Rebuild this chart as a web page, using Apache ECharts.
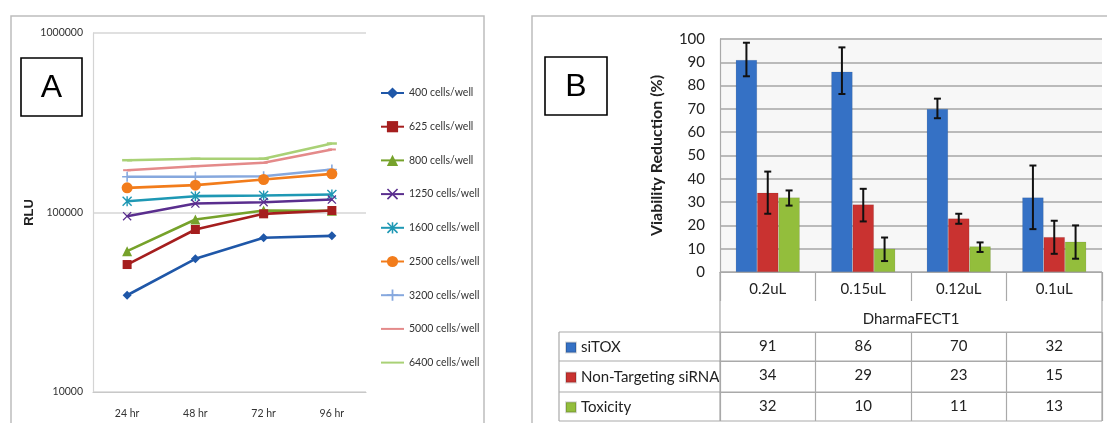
<!DOCTYPE html>
<html>
<head>
<meta charset="utf-8">
<script src="https://cdn.jsdelivr.net/npm/echarts@6/dist/echarts.min.js"></script>
<style>html,body{margin:0;padding:0;background:#fff}#c{width:1107px;height:423px}</style>
</head>
<body>
<div id="c"></div>
<script>
// ---------- Panel A data ----------
const categoriesA = ['24 hr', '48 hr', '72 hr', '96 hr'];
const seriesNamesA = ['400 cells/well', '625 cells/well', '800 cells/well', '1250 cells/well', '1600 cells/well', '2500 cells/well', '3200 cells/well', '5000 cells/well', '6400 cells/well'];
const rlu400  = [34600, 55200, 72300, 74100];
const rlu625  = [51300, 80400, 98300, 102600];
const rlu800  = [60900, 91400, 102600, 102200];
const rlu1250 = [95400, 112200, 114100, 118100];
const rlu1600 = [115600, 123300, 124300, 126000];
const rlu2500 = [137200, 142000, 152700, 164200];
const rlu3200 = [158100, 158100, 159300, 173600];
const rlu5000 = [172100, 181100, 189200, 224400];
const rlu6400 = [195600, 199200, 199200, 242300];
const yTicksA = [10000, 100000, 1000000];

// ---------- Panel B data ----------
const categoriesB = ['0.2uL', '0.15uL', '0.12uL', '0.1uL'];
const groupNameB = 'DharmaFECT1';
const seriesNamesB = ['siTOX', 'Non-Targeting siRNA', 'Toxicity'];
const siTOX = [91, 86, 70, 32];
const nonTargeting = [34, 29, 23, 15];
const toxicity = [32, 10, 11, 13];
const siTOXLow = [84, 76.4, 66, 18.4];
const siTOXHigh = [98.4, 96.4, 74.4, 45.7];
const nonTargetingLow = [25, 21.7, 20.7, 7.8];
const nonTargetingHigh = [43.1, 35.7, 25, 22];
const toxicityLow = [28.5, 4.7, 8.6, 5.7];
const toxicityHigh = [35, 14.8, 12.7, 20];
const yTicksB = [0, 100, 10]; // min, max, interval

// ---------- layout / style ----------
const narrow = 'Lato, "Liberation Sans", sans-serif';
const calib = 'Lato, "Liberation Sans", sans-serif';
const GA = {left: 93, top: 33, width: 273, height: 359};
const GB = {left: 720, top: 39, width: 382, height: 233};
const tableLeft = 559;
const rowLines = [332, 361, 392, 421];
const tableLineColor = '#a9a9a9';
const colorsA = ['#1F57A8', '#A51E1E', '#76A22B', '#5A2E8E', '#1E98B4', '#F27C1B', '#86A8DE', '#E48A8A', '#A9D176'];
const symbolsA = [
  'diamond', 'rect', 'triangle',
  'path://M0,1L1,0L5,4L9,0L10,1L6,5L10,9L9,10L5,6L1,10L0,9L4,5Z',
  'path://M0,1L1,0L5,4L9,0L10,1L6,5L10,9L9,10L5,6L1,10L0,9L4,5ZM4.3,0H5.7V10H4.3Z',
  'circle',
  'path://M4.2,0H5.8V10H4.2ZM0,4.2H10V5.8H0Z',
  'path://M0,0H10V2.5H0Z',
  'path://M0,0H10V2.5H0Z'
];
const symbolSizesA = [9, 9, 10, 9, 10, 11, 10, 8, 10];
const hideLegendSymbolA = [false, false, false, false, false, false, false, true, true];
const colorsB = ['#3571C5', '#C93230', '#93BE3C'];
const catGap = 0.33;

const dataA = [rlu400, rlu625, rlu800, rlu1250, rlu1600, rlu2500, rlu3200, rlu5000, rlu6400];
const dataB = [siTOX, nonTargeting, toxicity];
const lowB = [siTOXLow, nonTargetingLow, toxicityLow];
const highB = [siTOXHigh, nonTargetingHigh, toxicityHigh];

const chart = echarts.init(document.getElementById('c'), null, {renderer: 'canvas'});

const seriesA = seriesNamesA.map((n, i) => ({
  name: n, type: 'line', xAxisIndex: 0, yAxisIndex: 0,
  data: dataA[i],
  symbol: symbolsA[i], symbolSize: symbolSizesA[i], symbolKeepAspect: true,
  lineStyle: {color: colorsA[i], width: 2.6},
  itemStyle: {color: colorsA[i]},
  z: 10 - i
}));

const seriesBars = seriesNamesB.map((n, i) => ({
  name: n, type: 'bar', xAxisIndex: 1, yAxisIndex: 1,
  data: dataB[i], barGap: '0%', barCategoryGap: (catGap * 100) + '%',
  itemStyle: {color: colorsB[i], borderColor: 'rgba(0,0,0,0.15)', borderWidth: 0.6}
}));

const seriesErr = seriesNamesB.map((n, s) => ({
  type: 'custom', xAxisIndex: 1, yAxisIndex: 1, z: 5,
  data: categoriesB.map((c, i) => [i, lowB[s][i], highB[s][i]]),
  renderItem: function (params, api) {
    const i = api.value(0);
    const top = api.coord([i, api.value(2)]);
    const bot = api.coord([i, api.value(1)]);
    const band = api.size([1, 0])[0];
    const bw = band * (1 - catGap) / 3;
    const x = top[0] + (s - 1) * bw;
    const cap = 3.5;
    const st = {stroke: '#111', lineWidth: 2};
    return {type: 'group', children: [
      {type: 'line', shape: {x1: x, y1: top[1], x2: x, y2: bot[1]}, style: st},
      {type: 'line', shape: {x1: x - cap, y1: top[1], x2: x + cap, y2: top[1]}, style: st},
      {type: 'line', shape: {x1: x - cap, y1: bot[1], x2: x + cap, y2: bot[1]}, style: st}
    ]};
  }
}));

function tableAxis(rowArr, offset, len) {
  return {
    gridIndex: 1, type: 'category', data: categoriesB, position: 'bottom', offset: offset,
    axisLine: {show: true, lineStyle: {color: tableLineColor, width: 1.2}},
    axisTick: {show: true, length: len, lineStyle: {color: tableLineColor, width: 1.2}},
    axisLabel: {interval: 0, margin: 7, fontSize: 15, fontFamily: calib, color: '#222',
      formatter: (v, idx) => String(rowArr[idx])},
    splitLine: {show: false}
  };
}

const graphics = [
  {type: 'rect', z: -10, shape: {x: 11, y: 16, width: 473, height: 440}, style: {fill: 'none', stroke: '#bdbdbd', lineWidth: 1.5}},
  {type: 'rect', z: -10, shape: {x: 532, y: 16, width: 620, height: 440}, style: {fill: 'none', stroke: '#bdbdbd', lineWidth: 1.5}},
  {type: 'rect', shape: {x: 21, y: 58, width: 61, height: 58}, style: {fill: '#fff', stroke: '#000', lineWidth: 1.6}},
  {type: 'text', x: 51.5, y: 88, style: {text: 'A', fontSize: 32, fontFamily: '"Liberation Sans", Arial, sans-serif', fill: '#000', align: 'center', verticalAlign: 'middle'}},
  {type: 'rect', shape: {x: 545, y: 57, width: 62, height: 58}, style: {fill: '#fff', stroke: '#000', lineWidth: 1.6}},
  {type: 'text', x: 576, y: 87, style: {text: 'B', fontSize: 32, fontFamily: '"Liberation Sans", Arial, sans-serif', fill: '#000', align: 'center', verticalAlign: 'middle'}}
];
rowLines.forEach(y => graphics.push({type: 'line', z: 50, shape: {x1: tableLeft, y1: y, x2: GB.left + GB.width, y2: y}, style: {stroke: tableLineColor, lineWidth: 1.2}}));
graphics.push({type: 'line', z: 50, shape: {x1: tableLeft, y1: rowLines[0], x2: tableLeft, y2: rowLines[rowLines.length - 1]}, style: {stroke: tableLineColor, lineWidth: 1.2}});
graphics.push({type: 'line', z: 50, shape: {x1: GB.left, y1: GB.top + GB.height, x2: GB.left, y2: rowLines[rowLines.length - 1]}, style: {stroke: tableLineColor, lineWidth: 1.2}});
graphics.push({type: 'line', z: 50, shape: {x1: GB.left + GB.width, y1: GB.top + GB.height, x2: GB.left + GB.width, y2: rowLines[rowLines.length - 1]}, style: {stroke: tableLineColor, lineWidth: 1.2}});

const legendDataA = seriesNamesA.map((n, i) => hideLegendSymbolA[i] ? {name: n, itemStyle: {opacity: 0}} : {name: n});

const option = {
  animation: false,
  backgroundColor: '#fff',
  graphic: graphics,
  legend: [
    {data: legendDataA, orient: 'vertical', left: 380, top: 86, height: 320, itemWidth: 23, itemHeight: 14, itemGap: 19.7,
     textStyle: {fontSize: 10.5, lineHeight: 14, fontFamily: narrow, color: '#333'}, selectedMode: false, padding: 0},
    {data: seriesNamesB, orient: 'vertical', left: 565, top: 340, height: 100, itemWidth: 10, itemHeight: 10, itemGap: 14.9, icon: 'rect',
     textStyle: {fontSize: 15, lineHeight: 12, fontFamily: calib, color: '#222'}, selectedMode: false, padding: 0}
  ],
  grid: [
    Object.assign({outerBoundsMode: 'none', containLabel: false, show: false}, GA),
    Object.assign({outerBoundsMode: 'none', containLabel: false, show: true, backgroundColor: '#f7f7f7', borderWidth: 0}, GB)
  ],
  xAxis: [
    {gridIndex: 0, type: 'category', data: categoriesA, boundaryGap: true,
     axisLine: {show: true, lineStyle: {color: '#c8c8c8', width: 1.2}}, axisTick: {show: false},
     axisLabel: {interval: 0, margin: 16, fontSize: 10.5, fontFamily: narrow, color: '#333'}, splitLine: {show: false}},
    {gridIndex: 1, type: 'category', data: categoriesB, boundaryGap: true, position: 'bottom',
     name: groupNameB, nameLocation: 'middle', nameGap: 40, nameTextStyle: {fontSize: 15, fontFamily: calib, color: '#222'},
     axisLine: {show: true, lineStyle: {color: tableLineColor, width: 1.2}},
     axisTick: {show: true, length: 29, lineStyle: {color: tableLineColor, width: 1.2}},
     axisLabel: {interval: 0, margin: 10, fontSize: 15, fontFamily: calib, color: '#222'}, splitLine: {show: false}},
    tableAxis(siTOX, rowLines[0] - (GB.top + GB.height), rowLines[1] - rowLines[0]),
    tableAxis(nonTargeting, rowLines[1] - (GB.top + GB.height), rowLines[2] - rowLines[1]),
    tableAxis(toxicity, rowLines[2] - (GB.top + GB.height), rowLines[3] - rowLines[2])
  ],
  yAxis: [
    {gridIndex: 0, type: 'log', logBase: 10, min: yTicksA[0], max: yTicksA[yTicksA.length - 1],
     name: 'RLU', nameLocation: 'middle', nameGap: 57, nameTextStyle: {fontSize: 13, fontWeight: 'bold', fontFamily: '"Liberation Sans", Arial, sans-serif', color: '#222'},
     axisLine: {show: true, lineStyle: {color: '#d4d4d4', width: 1.2}}, axisTick: {show: false},
     axisLabel: {margin: 10, fontSize: 10.5, fontFamily: narrow, color: '#333', formatter: v => String(Math.round(v))},
     splitLine: {show: true, lineStyle: {color: '#d6d6d6', width: 1.5}}},
    {gridIndex: 1, type: 'value', min: yTicksB[0], max: yTicksB[1], interval: yTicksB[2],
     name: 'Viability Reduction (%)', nameLocation: 'middle', nameGap: 55, nameTextStyle: {fontSize: 16, fontWeight: 'bold', fontFamily: calib, color: '#222'},
     axisLine: {show: true, lineStyle: {color: tableLineColor, width: 1.2}}, axisTick: {show: false},
     axisLabel: {margin: 15, fontSize: 15, fontFamily: calib, color: '#222'},
     splitLine: {show: true, lineStyle: {color: '#bababa', width: 2}}}
  ],
  series: [].concat(seriesA, seriesBars, seriesErr)
};
chart.setOption(option);
</script>
</body>
</html>
